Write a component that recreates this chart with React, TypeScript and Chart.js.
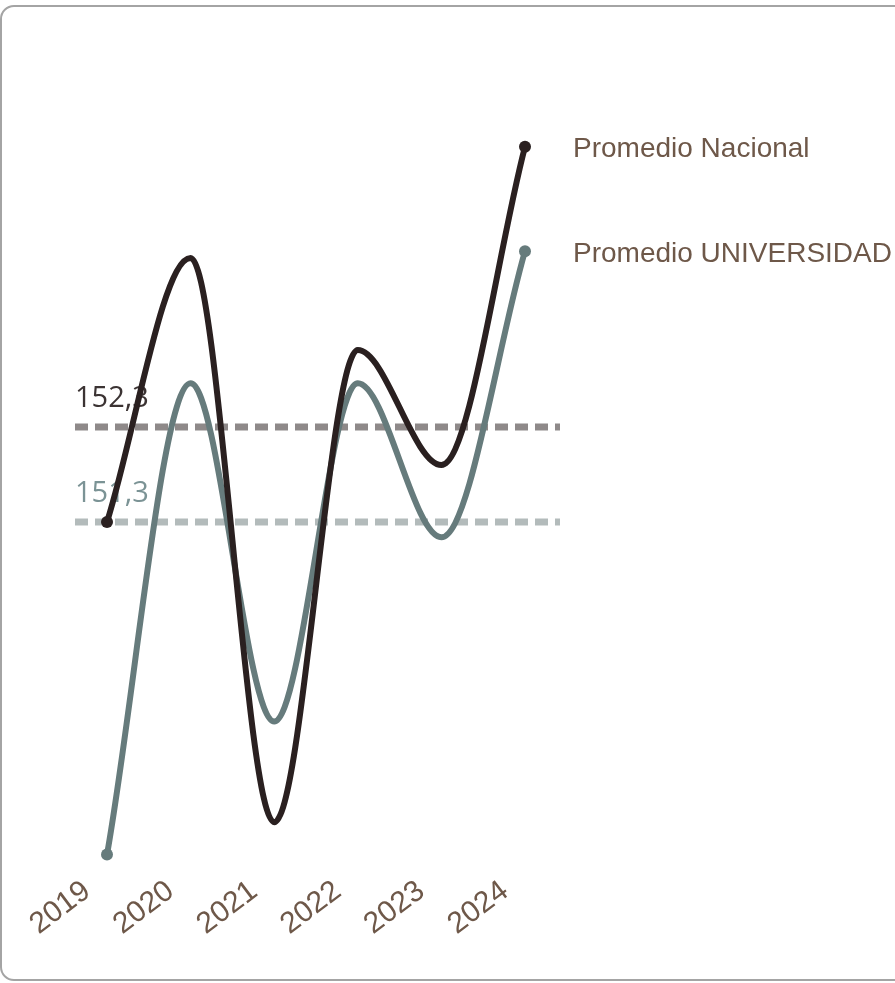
import React, { useEffect, useRef } from "react";
import { Chart, registerables } from "chart.js";

Chart.register(...registerables);

const years = ["2019", "2020", "2021", "2022", "2023", "2024"];
const nacional = [151.3, 154.08, 148.14, 153.11, 151.9, 155.25];
const universidad = [147.8, 152.76, 149.2, 152.76, 151.14, 154.15];
const averageValues = [152.3, 151.3];
const averageLabels = ["152,3", "151,3"];
const seriesNames = ["Promedio Nacional", "Promedio UNIVERSIDAD"];

const lineColors = ["#2a2020", "#667b7c"];
const avgLineColors = ["#8e8989", "#b3bbbb"];
const avgTextColors = ["#3b3333", "#7b9395"];
const labelColor = "#6e5849";

export default function App() {
  const canvasRef = useRef<HTMLCanvasElement | null>(null);

  useEffect(() => {
    if (!canvasRef.current) return;

    const averagePlugin = {
      id: "averages",
      beforeDatasetsDraw(chart: any) {
        const { ctx, scales } = chart;
        const xs = scales.x;
        const ys = scales.y;
        const x0 = xs.getPixelForValue(0) - 32;
        const x1 = xs.getPixelForValue(years.length - 1) + 35;
        averageValues.forEach((v, i) => {
          const y = ys.getPixelForValue(v);
          ctx.save();
          ctx.setLineDash([13, 7]);
          ctx.lineWidth = 7;
          ctx.strokeStyle = avgLineColors[i];
          ctx.beginPath();
          ctx.moveTo(x0, y);
          ctx.lineTo(x1, y);
          ctx.stroke();
          ctx.setLineDash([]);
          ctx.fillStyle = avgTextColors[i];
          ctx.font = '400 29px "Open Sans"';
          ctx.textAlign = "left";
          ctx.textBaseline = "alphabetic";
          ctx.fillText(averageLabels[i], x0, y - 20);
          ctx.restore();
        });
      },
    };

    const endLabelPlugin = {
      id: "endLabels",
      afterDatasetsDraw(chart: any) {
        const { ctx } = chart;
        chart.data.datasets.forEach((ds: any, i: number) => {
          const meta = chart.getDatasetMeta(i);
          const pt = meta.data[meta.data.length - 1];
          if (!pt) return;
          ctx.save();
          ctx.fillStyle = labelColor;
          ctx.font = '28px "Liberation Sans"';
          ctx.textAlign = "left";
          ctx.textBaseline = "middle";
          ctx.fillText(seriesNames[i], pt.x + 48, pt.y + 3);
          ctx.restore();
        });
      },
    };

    const endPointRadius = (c: any) =>
      c.dataIndex === 0 || c.dataIndex === years.length - 1 ? 6 : 0;

    const chart = new Chart(canvasRef.current, {
      type: "line",
      data: {
        labels: years,
        datasets: [
          {
            label: seriesNames[0],
            data: nacional,
            borderColor: lineColors[0],
            backgroundColor: lineColors[0],
            borderWidth: 6,
            pointRadius: endPointRadius,
            pointBorderWidth: 0,
            cubicInterpolationMode: "monotone",
            clip: false,
          },
          {
            label: seriesNames[1],
            data: universidad,
            borderColor: lineColors[1],
            backgroundColor: lineColors[1],
            borderWidth: 6,
            pointRadius: endPointRadius,
            pointBorderWidth: 0,
            cubicInterpolationMode: "monotone",
            clip: false,
          },
        ],
      },
      options: {
        animation: false,
        responsive: false,
        layout: { padding: { left: 107, right: 370, top: 123, bottom: 9.5 } },
        plugins: { legend: { display: false }, tooltip: { enabled: false } },
        scales: {
          x: {
            grid: { display: false, drawTicks: false },
            border: { display: false },
            afterFit: (scale: any) => {
              scale.height = 100;
            },
            ticks: {
              color: labelColor,
              font: { family: "'Liberation Sans', Arial, sans-serif", size: 30 },
              minRotation: 37,
              maxRotation: 37,
              autoSkip: false,
              padding: 0,
              labelOffset: -20,
            },
          },
          y: { display: false, min: 147.6, max: 155.5 },
        },
      },
      plugins: [averagePlugin, endLabelPlugin],
    });

    return () => chart.destroy();
  }, []);

  return (
    <div
      style={{
        position: "fixed",
        left: 0,
        top: 0,
        width: 895,
        height: 983,
        background: "#fff",
        overflow: "hidden",
      }}
    >
      <div
        style={{
          position: "absolute",
          left: 0,
          top: 5,
          width: 960,
          height: 972,
          border: "2px solid #a4a4a4",
          borderRadius: 14,
          boxSizing: "content-box",
        }}
      />
      <canvas
        ref={canvasRef}
        width={895}
        height={983}
        style={{ position: "absolute", left: 0, top: 0, width: 895, height: 983 }}
      />
    </div>
  );
}
